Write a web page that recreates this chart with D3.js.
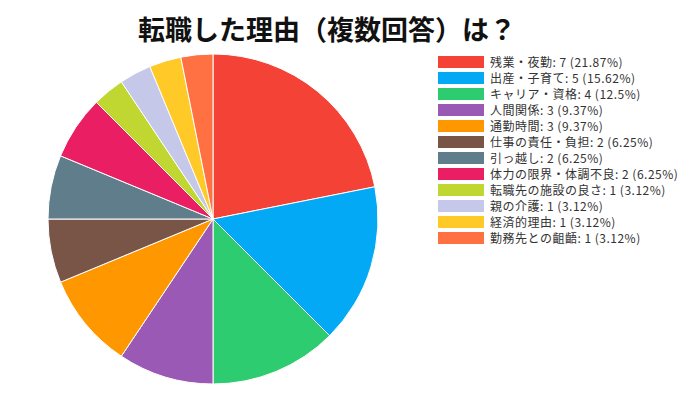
<!DOCTYPE html>
<html><head><meta charset="utf-8">
<script src="https://cdn.jsdelivr.net/npm/d3@7"></script>
<style>body{margin:0;background:#fff;}svg{display:block;font-family:"Noto Sans CJK JP","Noto Sans",sans-serif;}</style>
</head><body>
<svg id="c" width="700" height="400"></svg>
<script>
const title = "転職した理由（複数回答）は？";
const categories = ["残業・夜勤","出産・子育て","キャリア・資格","人間関係","通勤時間","仕事の責任・負担","引っ越し","体力の限界・体調不良","転職先の施設の良さ","親の介護","経済的理由","勤務先との齟齬"];
const values = [7,5,4,3,3,2,2,2,1,1,1,1];
const colors = ["#f44336","#03a9f4","#2ecc71","#9b59b6","#ff9800","#795548","#607d8b","#e91e63","#c0d631","#c5c8e8","#ffca28","#ff7043"];

const svg = d3.select("#c");
const total = d3.sum(values);
const cx = 213, cy = 219, r = 165;

svg.append("text").attr("x", 327).attr("y", 40).attr("text-anchor","middle")
  .attr("font-size", 27).attr("font-weight","bold").attr("fill","#111").text(title);

const pie = d3.pie().sort(null).value(d => d)(values);
const arc = d3.arc().innerRadius(0).outerRadius(r);
svg.append("g").attr("transform",`translate(${cx},${cy})`)
  .selectAll("path").data(pie).join("path")
  .attr("d", arc).attr("fill", (d,i)=>colors[i])
  .attr("stroke","#fff").attr("stroke-width",1);

const y = d3.scaleBand().domain(d3.range(categories.length)).range([55, 55+16*categories.length]);
const lg = svg.append("g");
categories.forEach((c,i)=>{
  const pct = Math.floor(values[i]/total*10000)/100;
  lg.append("rect").attr("x",438).attr("y",y(i)+1).attr("width",46).attr("height",12).attr("fill",colors[i]);
  lg.append("text").attr("x",490).attr("y",y(i)+11.5).attr("font-size",12).attr("letter-spacing","0.5px").attr("fill","#333")
    .text(`${c}: ${values[i]} (${pct}%)`);
});
</script>
</body></html>
